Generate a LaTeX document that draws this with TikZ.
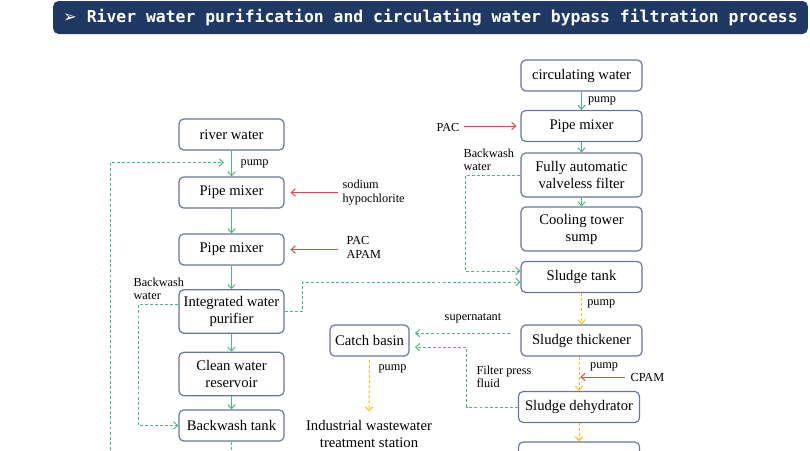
\documentclass[tikz,border=0pt]{standalone}
\usepackage{fontspec}
\setmainfont{Liberation Serif}
\newfontfamily\monotitre{DejaVu Sans Mono}
\newfontfamily\symb{DejaVu Sans}
\usetikzlibrary{arrows.meta,positioning}
\definecolor{bleu}{RGB}{31,56,100}
\definecolor{vert}{RGB}{72,186,128}
\definecolor{rouge}{RGB}{222,72,72}
\definecolor{jaune}{RGB}{255,192,0}
\definecolor{bord}{RGB}{105,118,150}

\begin{document}
\begin{tikzpicture}[x=0.75pt,y=-0.75pt,
  boite/.style={draw=bord,line width=0.9pt,rounded corners=3.5pt,fill=white,align=center,font=\fontsize{11}{12.75}\selectfont,inner sep=1pt},
  gauche/.style={boite,minimum width=78.75pt},
  droite/.style={boite,minimum width=90.75pt},
  h1/.style={minimum height=23.25pt},
  h2/.style={minimum height=32.5pt},
  etiq/.style={font=\fontsize{9.2}{9.9}\selectfont,text=black,align=left,inner sep=1pt},
  pointe/.style={-{Straight Barb[length=3pt,width=5.5pt]}},
  flux/.style={pointe,vert,line width=0.75pt},
  fluxtir/.style={pointe,vert,line width=0.75pt,dash pattern=on 2.2pt off 1.6pt},
  boue/.style={pointe,jaune,line width=0.75pt,dash pattern=on 2.2pt off 1.6pt},
  dose/.style={pointe,rouge,line width=0.75pt}]
\useasboundingbox (0,0) rectangle (810,450);
\clip (0,0) rectangle (810,450);

% titre
\node[fill=bleu,rounded corners=4pt,minimum width=566pt,minimum height=24.75pt,text=white,
  font=\monotitre\bfseries\fontsize{12.3}{14}\selectfont] (titre) at (430.5,17.5)
  {{\symb\bfseries ➢} River water purification and circulating water bypass filtration process};

% eau de riviere
\node[gauche,h1] (rw) at (231.5,134.5) {river water};
\node[gauche,h1] (pm1) at (231.5,192.5) {Pipe mixer};
\node[gauche,h1] (pm2) at (231.5,249.5) {Pipe mixer};
\node[gauche,h2] (iwp) at (231.5,311.5) {Integrated water\\purifier};
\node[gauche,h2] (cwr) at (231.5,374) {Clean water\\reservoir};
\node[gauche,h1] (bt) at (231.5,425.5) {Backwash tank};

\draw[flux] (rw) -- node[etiq,right=5.5pt](p1){pump} (pm1);
\draw[flux] (pm1) -- (pm2);
\draw[flux] (pm2) -- (iwp);
\draw[flux] (iwp) -- (cwr);
\draw[flux] (cwr) -- (bt);
\coordinate (bas) at (231.5,470);
\draw[vert,line width=0.75pt,dash pattern=on 2.2pt off 1.6pt] (bt) -- (bas);

\coordinate (retour) at (110,470);
\coordinate (rp) at (224,162.5);
\draw[fluxtir] (retour) |- (rp);

\node[etiq,anchor=west] (naclo) at (341,192.5) {sodium\\hypochlorite};
\coordinate (c1) at (338,192.5);
\draw[dose,shorten >=4.5pt] (c1) -- (pm1);
\node[etiq,anchor=west] (pac1) at (345,247.5) {PAC\\APAM};
\coordinate (c2) at (338,249.5);
\draw[dose,shorten >=4.5pt] (c2) -- (pm2);

\node[etiq,anchor=west] (bw1) at (132,289) {Backwash\\water};
\draw[fluxtir] ([yshift=5pt]iwp.west) -- ++(-40,0) |- (bt);

% eau de circulation
\node[droite,h1] (cw) at (581.5,75.5) {circulating water};
\node[droite,h1] (pm3) at (581.5,126) {Pipe mixer};
\node[droite,minimum height=33pt] (faf) at (581.5,175) {Fully automatic\\valveless filter};
\node[droite,minimum height=33pt] (cts) at (581.5,229) {Cooling tower\\sump};
\node[droite,h1] (st) at (581.5,277) {Sludge tank};
\node[droite,h1] (tk) at (581.5,340.5) {Sludge thickener};
\node[droite,h1] (sd) at (579,407) {Sludge dehydrator};
\node[droite,h1] (bx) at (579,457.5) {};
\node[boite,minimum width=59.25pt,h1] (cb) at (369.5,340.5) {Catch basin};
\node[align=center,font=\fontsize{11}{12.75}\selectfont,inner sep=1pt] (iw) at (369,434) {Industrial wastewater\\treatment station};

\draw[flux] (cw) -- node[etiq,right=3.5pt](p2){pump} (pm3);
\draw[flux] (pm3) -- (faf);
\draw[flux] (faf) -- (cts);

\node[etiq,anchor=east] (pac2) at (461,127) {PAC};
\coordinate (c3) at (464,126);
\draw[dose,shorten >=3pt] (c3) -- (pm3);

\node[etiq,anchor=west] (bw2) at (462,160) {Backwash\\water};
\draw[fluxtir] (faf.west) -- ++(-55,0) |- ([yshift=4.5pt]st.west);
\draw[fluxtir] (iwp.east) -- ++(18,0) |- ([yshift=-3.75pt]st.west);

\draw[boue] (st) -- node[etiq,right=3pt,pos=0.35](p3){pump} (tk);
\draw[boue] (sd.north |- tk.south) -- node[etiq,right=7pt,pos=0.3](p4){pump} (sd.north);
\coordinate (c4) at (625,377);
\node[etiq,anchor=west] (cpam) at (629,377) {CPAM};
\draw[dose,shorten >=1pt] (c4) -- (c4 -| sd.north);
\draw[boue] (sd) -- (bx);

\draw[fluxtir,shorten <=7.5pt,shorten >=4pt] ([yshift=5.5pt]tk.west) -- ([yshift=5.5pt]tk.west -| cb.east);
\node[etiq] (sn) at (473,318) {supernatant};
\draw[fluxtir,shorten >=4pt] (sd.west) -- ++(-51,0) |- ([yshift=-5pt]cb.east);
\node[etiq,anchor=west] (fp) at (475,376.5) {Filter press\\fluid};

\draw[boue,shorten <=2.5pt,shorten >=5.5pt] (cb) -- node[etiq,right=5.5pt,pos=0.2](p5){pump} (iw);
\end{tikzpicture}
\end{document}
